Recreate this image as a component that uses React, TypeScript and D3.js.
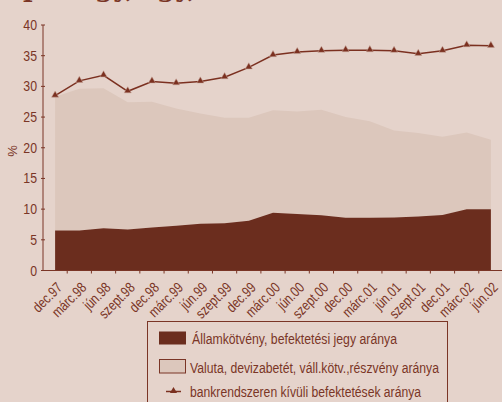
import React from "react";
import * as d3 from "d3";

const categories = [
  "dec.97", "márc.98", "jún.98", "szept.98", "dec.98", "márc.99", "jún.99", "szept.99", "dec.99",
  "márc.00", "jún.00", "szept.00", "dec.00", "márc.01", "jún.01", "szept.01", "dec.01", "márc.02", "jún.02",
];
const allamkotveny = [6.5, 6.5, 6.9, 6.7, 7.0, 7.3, 7.6, 7.7, 8.1, 9.4, 9.2, 9.0, 8.6, 8.6, 8.65, 8.8, 9.05, 10.0, 10.0];
const valuta = [21.8, 23.1, 22.8, 20.7, 20.5, 19.1, 18.0, 17.2, 16.8, 16.7, 16.7, 17.2, 16.4, 15.7, 14.15, 13.6, 12.75, 12.5, 11.3];
const bankonKivul = [28.5, 30.9, 31.8, 29.2, 30.8, 30.5, 30.8, 31.5, 33.1, 35.1, 35.6, 35.8, 35.9, 35.9, 35.8, 35.3, 35.8, 36.7, 36.6];
const yTicks = [0, 5, 10, 15, 20, 25, 30, 35, 40];
const legendLabels = [
  "Államkötvény, befektetési jegy aránya",
  "Valuta, devizabetét, váll.kötv.,részvény aránya",
  "bankrendszeren kívüli befektetések aránya",
];
const legendWidths = [205, 249, 231];

const W = 502, H = 402;
const BG = "#e5d3cb";
const LIGHT = "#dcc7bc";
const DARK = "#6b2d1e";
const TXT = "#7a3526";
const LINEC = "#7b3020";
const FONT = "'Liberation Sans', Arial, sans-serif";

export default function App() {
  const x = d3.scaleBand<string>().domain(categories).range([43, 503]);
  const cx = (i: number) => (x(categories[i]) as number) + x.bandwidth() / 2;
  const y = d3.scaleLinear().domain([0, 40]).range([270.5, 25]);

  const rows = categories.map((c, i) => ({ i, a: allamkotveny[i], v: valuta[i] }));
  const stacked = d3.stack<any>().keys(["a", "v"])(rows);
  const area = d3.area<any>().x((d) => cx(d.data.i)).y0((d) => y(d[0])).y1((d) => y(d[1]));
  const line = d3.line<number>().x((_, i) => cx(i)).y((d) => y(d));
  const tri = d3.symbol().type(d3.symbolTriangle).size(22)();

  const boundaries = categories.map((c) => x(c) as number).slice(1);

  return (
    <div style={{ position: "fixed", left: 0, top: 0, width: W, height: H, background: BG }}>
      <svg width={W} height={H} style={{ display: "block" }}>
        <rect width={W} height={H} fill={BG} />
        <g fontFamily="Georgia, 'DejaVu Serif', serif" fontWeight="bold" fontSize={26} fill={TXT}>
          <text x={23} y={-3}>p</text>
          <text x={95} y={-3}>gy,</text>
          <text x={157} y={-3}>gy,</text>
        </g>
        <path d={area(stacked[1]) || ""} fill={LIGHT} />
        <path d={area(stacked[0]) || ""} fill={DARK} />
        <path d={line(bankonKivul) || ""} fill="none" stroke={LINEC} strokeWidth={1.5} />
        {bankonKivul.map((v, i) => (
          <path key={i} d={tri || ""} transform={`translate(${cx(i)},${y(v) - 0.5})`} fill={LINEC} stroke="#c9a89c" strokeWidth={0.5} />
        ))}
        {/* y axis */}
        <line x1={43} x2={43} y1={y(40)} y2={y(0)} stroke={TXT} strokeWidth={1} />
        {yTicks.map((t) => (
          <g key={t}>
            <line x1={41} x2={45} y1={y(t)} y2={y(t)} stroke={TXT} />
            <text transform={`translate(37,${y(t)}) scale(0.88,1)`} dy="0.36em" textAnchor="end" fontFamily={FONT} fontSize={14} fill={TXT}>{t}</text>
          </g>
        ))}
        <text transform={`translate(12,151) rotate(-90)`} textAnchor="middle" dy="0.35em" fontFamily={FONT} fontSize={13} fill={TXT}>%</text>
        {/* x axis */}
        <line x1={43} x2={W} y1={y(0)} y2={y(0)} stroke={TXT} strokeWidth={1} />
        {boundaries.map((b, i) => (
          <line key={i} x1={b} x2={b} y1={y(0)} y2={y(0) + 3} stroke={TXT} />
        ))}
        {categories.map((c, i) => (
          <text key={c} transform={`translate(${cx(i) + 8},${y(0) + 18}) rotate(-45) scale(0.8,1)`} textAnchor="end" fontFamily={FONT} fontSize={14.5} fill={TXT}>{c}</text>
        ))}
        {/* legend */}
        <rect x={147.5} y={321.5} width={300} height={100} fill="none" stroke={TXT} strokeWidth={1} />
        <rect x={159} y={331.5} width={27} height={13} fill={DARK} />
        <text x={192} y={344} textLength={legendWidths[0]} lengthAdjust="spacingAndGlyphs" fontFamily={FONT} fontSize={14} fill={TXT}>{legendLabels[0]}</text>
        <rect x={159.5} y={359.5} width={26} height={13.5} fill={LIGHT} stroke={TXT} strokeWidth={1} />
        <text x={190} y={373} textLength={legendWidths[1]} lengthAdjust="spacingAndGlyphs" fontFamily={FONT} fontSize={14} fill={TXT}>{legendLabels[1]}</text>
        <line x1={166} x2={181} y1={391.5} y2={391.5} stroke={LINEC} strokeWidth={1.5} />
        <path d={tri || ""} transform="translate(173.5,391)" fill={LINEC} />
        <text x={190} y={397} textLength={legendWidths[2]} lengthAdjust="spacingAndGlyphs" fontFamily={FONT} fontSize={14} fill={TXT}>{legendLabels[2]}</text>
      </svg>
    </div>
  );
}
